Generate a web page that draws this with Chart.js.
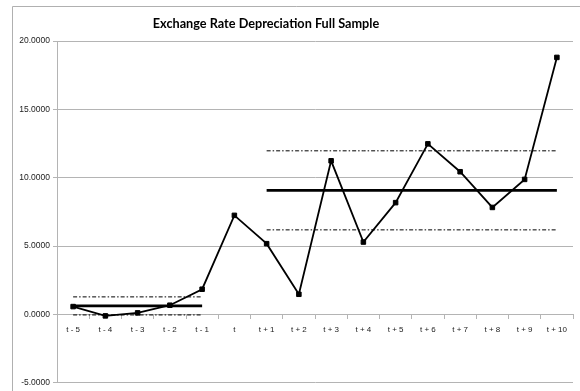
<!DOCTYPE html>
<html>
<head>
<meta charset="utf-8">
<script src="https://cdn.jsdelivr.net/npm/chart.js@4"></script>
<style>
  html, body { margin: 0; padding: 0; background: #fff; }
  #wrap { width: 580px; height: 391px; position: relative; }
</style>
</head>
<body>
<div id="wrap"><canvas id="rateChart"></canvas></div>
<script>
const titleText = 'Exchange Rate Depreciation Full Sample';

const periods = ['t - 5', 't - 4', 't - 3', 't - 2', 't - 1', 't',
  't + 1', 't + 2', 't + 3', 't + 4', 't + 5', 't + 6', 't + 7', 't + 8', 't + 9', 't + 10'];

// depreciation values per period
const depreciation = [0.58, -0.10, 0.12, 0.68, 1.85, 7.25,
  5.18, 1.48, 11.24, 5.30, 8.18, 12.48, 10.44, 7.83, 9.88, 18.80];

// pre / post period means and bands
const preMean  = [0.63, 0.63, 0.63, 0.63, 0.63, null, null, null, null, null, null, null, null, null, null, null];
const preUpper = [1.29, 1.29, 1.29, 1.29, 1.29, null, null, null, null, null, null, null, null, null, null, null];
const preLower = [-0.03, -0.03, -0.03, -0.03, -0.03, null, null, null, null, null, null, null, null, null, null, null];
const postMean  = [null, null, null, null, null, null, 9.08, 9.08, 9.08, 9.08, 9.08, 9.08, 9.08, 9.08, 9.08, 9.08];
const postUpper = [null, null, null, null, null, null, 11.97, 11.97, 11.97, 11.97, 11.97, 11.97, 11.97, 11.97, 11.97, 11.97];
const postLower = [null, null, null, null, null, null, 6.19, 6.19, 6.19, 6.19, 6.19, 6.19, 6.19, 6.19, 6.19, 6.19];

const yTicks = [-5, 0, 5, 10, 15, 20];

const gridGray = '#b4b4b4';
const dashDot = [4, 2, 1.5, 2];

function flatLine(data, width, dash) {
  return {
    data: data,
    borderColor: '#000',
    borderWidth: width,
    borderDash: dash || [],
    pointRadius: 0,
    fill: false,
    spanGaps: false
  };
}

// frame + title drawn by hand
const framePlugin = {
  id: 'frame',
  beforeDraw(chart) {
    const ctx = chart.ctx;
    ctx.save();
    ctx.fillStyle = '#fff';
    ctx.fillRect(0, 0, chart.width, chart.height);
    ctx.strokeStyle = '#b0b0b0';
    ctx.lineWidth = 1;
    ctx.beginPath();
    ctx.moveTo(12.5, chart.height);
    ctx.lineTo(12.5, 6.5);
    ctx.lineTo(chart.width, 6.5);
    ctx.stroke();
    ctx.restore();
  },
  afterDraw(chart) {
    const ctx = chart.ctx;
    ctx.save();
    ctx.font = 'bold 12.7px Lato';
    ctx.fillStyle = '#000';
    ctx.textAlign = 'center';
    ctx.textBaseline = 'middle';
    ctx.fillText(titleText, 266, 24);
    ctx.restore();
  }
};

const ctx = document.getElementById('rateChart').getContext('2d');
new Chart(ctx, {
  type: 'line',
  data: {
    labels: periods,
    datasets: [
      flatLine(preUpper, 1, dashDot),
      flatLine(preLower, 1, dashDot),
      flatLine(postUpper, 1, dashDot),
      flatLine(postLower, 1, dashDot),
      flatLine(preMean, 2.6),
      flatLine(postMean, 2.6),
      {
        data: depreciation,
        borderColor: '#000',
        borderWidth: 1.8,
        pointStyle: 'rect',
        pointRadius: 3.2,
        pointBackgroundColor: '#000',
        pointBorderColor: '#000',
        pointBorderWidth: 1,
        tension: 0,
        fill: false
      }
    ]
  },
  options: {
    responsive: true,
    maintainAspectRatio: false,
    animation: false,
    layout: { padding: { top: 41, right: 7, bottom: 7, left: 0 } },
    plugins: {
      legend: { display: false },
      title: { display: false },
      tooltip: { enabled: false }
    },
    scales: {
      x: {
        type: 'category',
        position: { y: 0 },
        offset: true,
        grid: { display: true, drawOnChartArea: false, drawTicks: true, tickLength: 4, offset: true, color: gridGray },
        border: { display: true, color: gridGray },
        ticks: {
          autoSkip: false, maxRotation: 0, padding: 6,
          color: '#222', font: { family: 'Liberation Sans', size: 8 }
        }
      },
      y: {
        min: -5,
        max: 20,
        afterFit(scale) { scale.width = 57; },
        afterBuildTicks(scale) { scale.ticks = yTicks.map(v => ({ value: v })); },
        grid: { color: gridGray, lineWidth: 1, tickLength: 4 },
        border: { display: true, color: gridGray },
        ticks: {
          padding: 3,
          color: '#222',
          font: { family: 'Liberation Sans', size: 8.5 },
          callback: v => Number(v).toFixed(4)
        }
      }
    }
  },
  plugins: [framePlugin]
});
</script>
</body>
</html>
